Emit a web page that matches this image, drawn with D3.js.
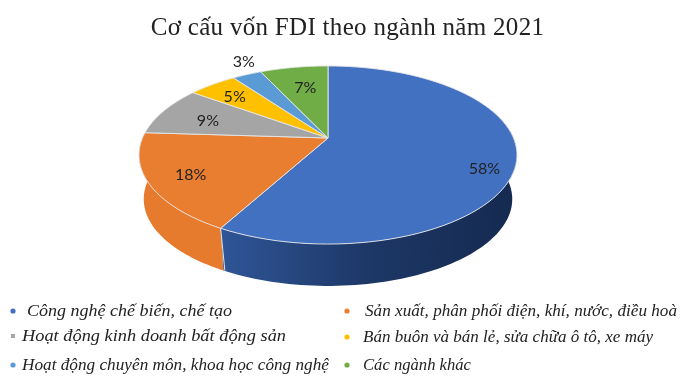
<!DOCTYPE html>
<html><head><meta charset="utf-8">
<script src="https://cdn.jsdelivr.net/npm/d3@7"></script>
<style>html,body{margin:0;padding:0;background:#fff}svg{display:block;filter:blur(0.35px)}</style>
</head><body><svg id="c" width="686" height="381"></svg>
<script>
const title = "Cơ cấu vốn FDI theo ngành năm 2021";
const categories = ["Công nghệ chế biến, chế tạo","Sản xuất, phân phối điện, khí, nước, điều hoà","Hoạt động kinh doanh bất động sản","Bán buôn và bán lẻ, sửa chữa ô tô, xe máy","Hoạt động chuyên môn, khoa học công nghệ","Các ngành khác"];
const values = [58,18,9,5,3,7];
const colors = ["#4371C1","#E97E30","#A5A5A5","#FFC000","#5B9BD5","#70AD47"];

const svg = d3.select("#c");
const apex = {x:328,y:138}, k=0.191, A=85.8, B=185.5, depth=44.5, shrink=0.975;
const proj = (t,r=1,s=1,dy=0)=>{ const u=r*Math.sin(t), v=r*Math.cos(t), w=1+k*v;
  return [apex.x+s*B*u/w, apex.y+dy-s*A*v/w]; };
const arcs = d3.pie().sort(null).value(d=>d)(values);
const line = d3.line();
const steps=(a,b)=>d3.range(0,1.0001,1/80).map(f=>a+(b-a)*f);

const defs = svg.append("defs");
const gb = defs.append("linearGradient").attr("id","wallB").attr("gradientUnits","userSpaceOnUse")
  .attr("x1",222).attr("x2",515).attr("y1",0).attr("y2",0);
gb.append("stop").attr("offset",0).attr("stop-color","#2F5597");
gb.append("stop").attr("offset",0.5).attr("stop-color","#1D3766");
gb.append("stop").attr("offset",1).attr("stop-color","#152A50");

const wall=(a,b,fill)=>{ const ts=steps(a,b);
  svg.append("path").attr("fill",fill)
   .attr("d",line([...ts.map(t=>proj(t)),...ts.slice().reverse().map(t=>proj(t,1,shrink,depth))])+"Z"); };
wall(Math.PI/2-0.1, arcs[0].endAngle, "url(#wallB)");
wall(arcs[1].startAngle, arcs[1].endAngle, "#E67B2D");
const sa=proj(arcs[0].endAngle), sb=proj(arcs[0].endAngle,1,shrink,depth);
svg.append("line").attr("x1",sa[0]).attr("y1",sa[1]).attr("x2",sb[0]+1.5).attr("y2",sb[1]).attr("stroke","#DDE3EC").attr("stroke-width",1);

arcs.forEach((d,i)=>{
  const pts=[[apex.x,apex.y],...steps(d.startAngle,d.endAngle).map(t=>proj(t))];
  svg.append("path").attr("d",line(pts)+"Z").attr("fill",colors[i]).attr("stroke","#E6E6E6").attr("stroke-width",0.9).attr("stroke-linejoin","round");
});

const labelR=[0.8,0.72,0.72,0.75,1.12,0.72], labelDx=[7,-12,0,-4,5,3], labelDy=[14,6,4,1,-5,4];
arcs.forEach((d,i)=>{
  const p=proj((d.startAngle+d.endAngle)/2,labelR[i]);
  svg.append("text").attr("x",p[0]+labelDx[i]).attr("y",p[1]+labelDy[i]).attr("text-anchor","middle").attr("dominant-baseline","middle")
    .attr("font-family","Lato").attr("font-size",16).attr("fill","#222").text(d.value+"%");
});

svg.append("text").attr("x",347.5).attr("y",35).attr("text-anchor","middle").attr("font-family","'Liberation Serif'").attr("font-size",25).attr("letter-spacing",0.3).attr("fill","#222").text(title);

const lx=[27,365,22,363,22,363], bx=[13,347,13,347,13,347], ly=[311,311,336,337,365,365], lw=[205,312,264,290,307,108];
categories.forEach((c,i)=>{
  if(i==2) svg.append("rect").attr("x",bx[i]-2).attr("y",ly[i]-2).attr("width",4).attr("height",4).attr("fill",colors[i]);
  else svg.append("circle").attr("cx",bx[i]).attr("cy",ly[i]).attr("r",2.6).attr("fill",colors[i]);
  svg.append("text").attr("x",lx[i]).attr("y",ly[i]+5).attr("font-family","'Liberation Serif'").attr("font-style","italic").attr("font-size",17)
    .attr("textLength",lw[i]).attr("lengthAdjust","spacingAndGlyphs").attr("fill","#222").text(c);
});
</script></body></html>
